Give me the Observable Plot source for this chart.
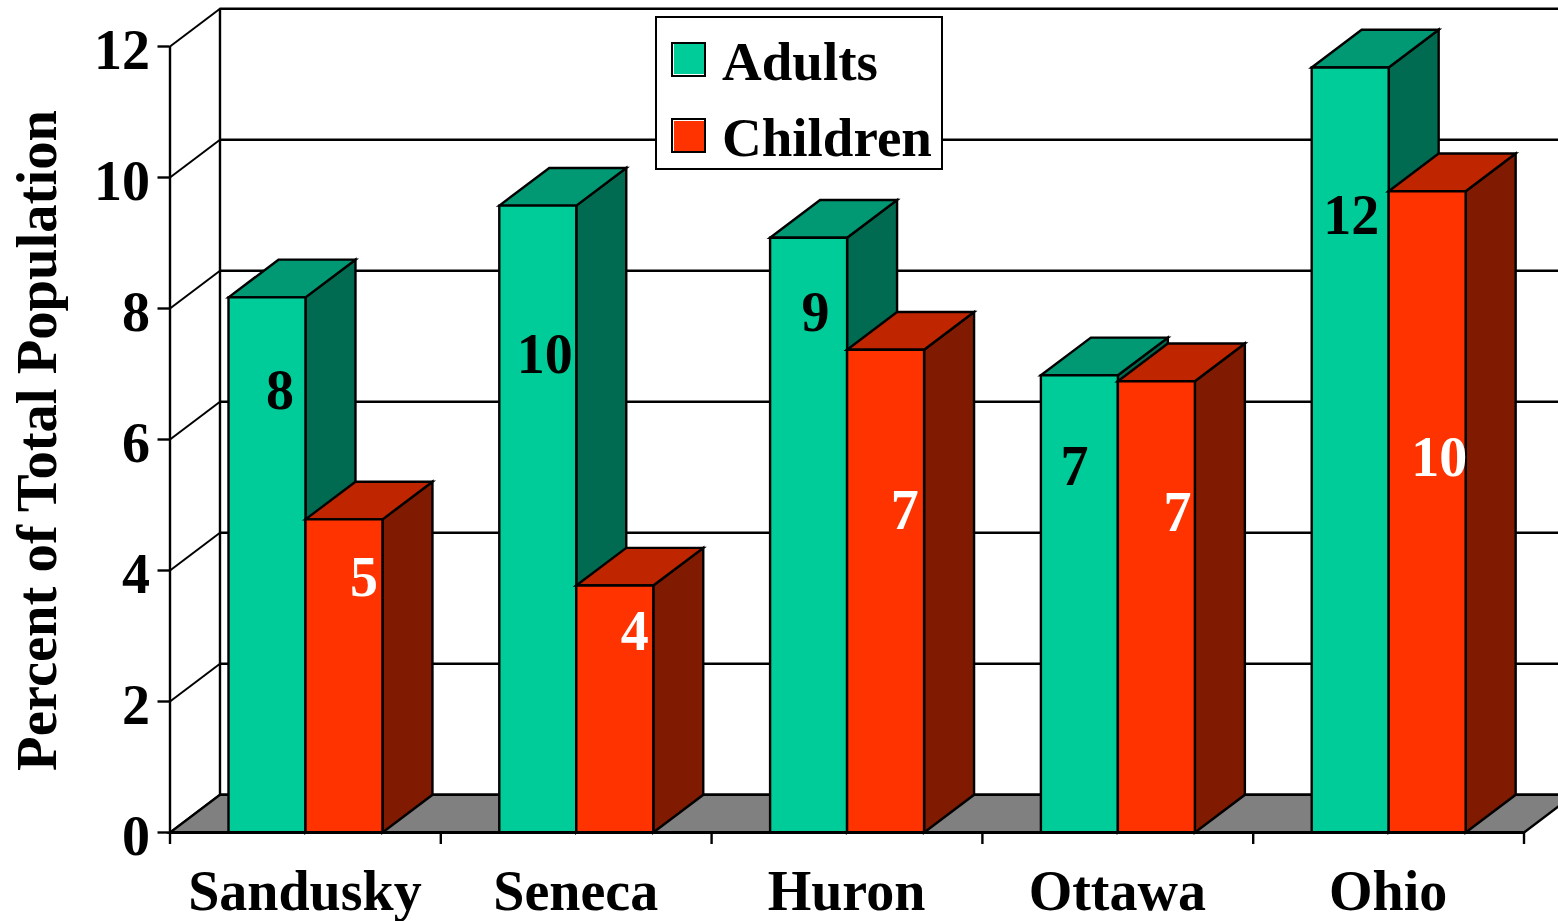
<!DOCTYPE html>
<html>
<head>
<meta charset="utf-8">
<script src="https://cdn.jsdelivr.net/npm/d3@7"></script>
<script src="https://cdn.jsdelivr.net/npm/@observablehq/plot@0.6"></script>
<style>
html,body{margin:0;padding:0;background:#fff;overflow:hidden;}
#chart{position:relative;width:1558px;height:921px;font-family:"Liberation Serif",serif;font-weight:bold;color:#000;}
#chart svg{display:block;}
#legend{position:absolute;left:655px;top:16px;width:284px;height:150px;background:#fff;border:2px solid #000;}
.entry{position:absolute;left:14px;height:76px;width:268px;}
.swatch{position:absolute;left:0;top:0;width:31px;height:31px;border:2px solid #000;}
.lab{position:absolute;left:51px;top:-7px;font-size:55px;line-height:54px;white-space:nowrap;}
</style>
</head>
<body>
<div id="chart"></div>
<script>
const categories = ["Sandusky", "Seneca", "Huron", "Ottawa", "Ohio"];
const adults = [8.17, 9.57, 9.08, 6.98, 11.68];
const children = [4.78, 3.77, 7.37, 6.89, 9.79];
const yTicks = [0, 2, 4, 6, 8, 10, 12];
const xTicks = [0, 1, 2, 3, 4, 5];
const seriesNames = ["Adults", "Children"];
const yTitle = "Percent of Total Population";

// Hand-placed value labels, in chart units (category fraction, value height)
const adultLabelX = [0.406, 0.384, 0.384, 0.34, 0.362];
const adultLabelY = [6.74, 7.29, 7.93, 5.58, 9.41];
const childLabelX = [0.716, 0.716, 0.713, 0.72, 0.687];
const childLabelY = [3.89, 3.06, 4.91, 4.87, 5.71];

// Faux-3D layout, in chart units
const depthX = 0.1846, depthY = 0.5755;
const barStart = 0.216, barWidth = 0.2843;
const palette = {
  adult: {front: "#00CC99", top: "#009973", side: "#006B50"},
  child: {front: "#FF3300", top: "#BF2600", side: "#801A00"},
  floor: "#808080"
};

const polys = [];
const addPoly = (id, fill, pts) => pts.forEach(([x, y]) => polys.push({id, fill, x, y}));
addPoly("floor", palette.floor, [[0, 0], [5, 0], [5 + depthX, depthY], [depthX, depthY]]);
function addBar(id, c, x0, v) {
  const x1 = x0 + barWidth;
  addPoly(id + "-side", c.side, [[x1, 0], [x1 + depthX, depthY], [x1 + depthX, v + depthY], [x1, v]]);
  addPoly(id + "-top", c.top, [[x0, v], [x0 + depthX, v + depthY], [x1 + depthX, v + depthY], [x1, v]]);
  addPoly(id + "-front", c.front, [[x0, 0], [x0, v], [x1, v], [x1, 0]]);
}
categories.forEach((name, i) => {
  addBar(name + "-a", palette.adult, i + barStart, adults[i]);
  addBar(name + "-c", palette.child, i + barStart + barWidth, children[i]);
});

const valueLabels = [
  ...categories.map((_, i) => ({x: i + adultLabelX[i], y: adultLabelY[i], t: Math.round(adults[i]), c: "#000"})),
  ...categories.map((_, i) => ({x: i + childLabelX[i], y: childLabelY[i], t: Math.round(children[i]), c: "#fff"}))
];

const sw = 2.4;
const plot = Plot.plot({
  width: 1558, height: 921,
  marginLeft: 169.5, marginRight: 34.5, marginTop: 46, marginBottom: 89,
  x: {domain: [0, 5]},
  y: {domain: [0, 12]},
  color: {type: "identity"},
  style: {fontFamily: "Liberation Serif", fontWeight: "bold", fontSize: "56px", color: "#000", background: "#fff", overflow: "hidden"},
  marks: [
    // back wall grid
    Plot.ruleY(yTicks, {y: d => d + depthY, x1: depthX, x2: 5 + depthX, stroke: "#000", strokeWidth: sw}),
    Plot.ruleX([depthX], {y1: depthY, y2: 12 + depthY, stroke: "#000", strokeWidth: sw}),
    // side wall
    Plot.link(yTicks, {x1: 0, x2: depthX, y1: d => d, y2: d => d + depthY, stroke: "#000", strokeWidth: 2}),
    // floor and bars
    Plot.line(polys, {x: "x", y: "y", z: "id", fill: "fill", stroke: "#000", strokeWidth: sw,
      curve: "linear-closed", strokeLinejoin: "miter", strokeMiterlimit: 4}),
    // axes
    Plot.ruleX([0], {y1: 0, y2: 12, stroke: "#000", strokeWidth: sw}),
    Plot.ruleY([0], {x1: 0, x2: 5, stroke: "#000", strokeWidth: 2.8}),
    Plot.axisY({ticks: yTicks, tickSize: 12, strokeWidth: sw, label: null, tickFormat: () => ""}),
    Plot.axisY({ticks: yTicks, tickSize: 0, tickPadding: 20, dy: 5, fontSize: 56, label: null, tickFormat: d => String(d)}),
    Plot.axisX({ticks: xTicks, tickSize: 12, strokeWidth: sw, label: null, tickFormat: () => ""}),
    // category labels
    Plot.text(categories, {x: (d, i) => i + 0.5, frameAnchor: "bottom", lineAnchor: "top", dy: 38, dx: -0.5, fontSize: 56, fill: "#000"}),
    // y title
    Plot.text([yTitle], {frameAnchor: "left", textAnchor: "middle", dx: -132.5, dy: 1, rotate: -90, fontSize: 56.6, fill: "#000"}),
    // value labels
    Plot.text(valueLabels, {x: "x", y: "y", text: "t", fill: "c", fontSize: 56})
  ]
});
const chart = document.getElementById("chart");
chart.appendChild(plot);

const legend = document.createElement("div");
legend.id = "legend";
[palette.adult.front, palette.child.front].forEach((col, i) => {
  const e = document.createElement("div");
  e.className = "entry";
  e.style.top = (24 + i * 76) + "px";
  const s = document.createElement("div");
  s.className = "swatch";
  s.style.background = col;
  s.style.boxShadow = i === 0 ? "inset 1px -1px 0 #fff" : "inset 1px 1px 0 #fff";
  const l = document.createElement("div");
  l.className = "lab";
  l.textContent = seriesNames[i];
  e.append(s, l);
  legend.appendChild(e);
});
chart.appendChild(legend);
</script>
</body>
</html>
